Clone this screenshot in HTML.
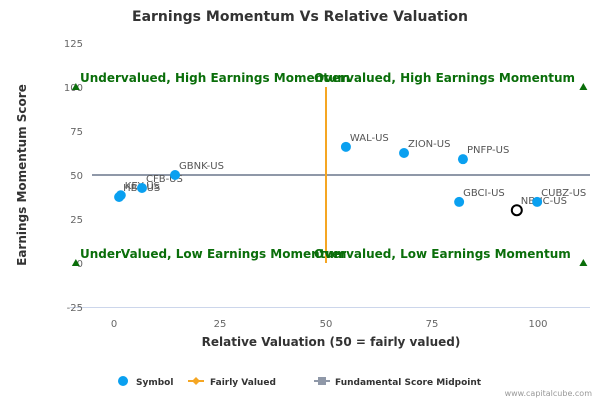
<!DOCTYPE html>
<html><head><meta charset="utf-8"><style>
body{margin:0;background:#fff;font-family:"DejaVu Sans",sans-serif}
svg text{font-family:"DejaVu Sans",sans-serif}
</style></head><body>
<svg width="600" height="400" xmlns="http://www.w3.org/2000/svg">
<rect width="600" height="400" fill="#fff"/>
<text x="300" y="21" text-anchor="middle" font-size="14" font-weight="bold" fill="#333">Earnings Momentum Vs Relative Valuation</text>
<g id="grid"></g>
<g id="marks"></g>
<text x="331" y="346" text-anchor="middle" font-size="12" font-weight="bold" fill="#333">Relative Valuation (50 = fairly valued)</text>
<text transform="translate(26,175) rotate(-90)" text-anchor="middle" font-size="12" font-weight="bold" fill="#333">Earnings Momentum Score</text>
<g font-size="9" font-weight="bold" fill="#333">
<g><circle cx="123" cy="381" r="5" fill="#0aa0f0"/><text x="136" y="385">Symbol</text></g>
<g><line x1="188" y1="381" x2="204" y2="381" stroke="#f5a623" stroke-width="2"/><path d="M196 377 L200 381 L196 385 L192 381Z" fill="#f5a623"/><text x="210" y="385">Fairly Valued</text></g>
<g><line x1="314" y1="381" x2="330" y2="381" stroke="#8f98a8" stroke-width="2"/><rect x="318" y="377" width="8" height="8" fill="#8f98a8"/><text x="335" y="385">Fundamental Score Midpoint</text></g>
</g>
<text x="592" y="396" text-anchor="end" font-size="8" fill="#999">www.capitalcube.com</text>
</svg>
<script>
const labels=["KEY-US","HBK-US","CFB-US","GBNK-US","WAL-US","ZION-US","PNFP-US","GBCI-US","NBHC-US","CUBZ-US"];
const xVals=[1.6,1.2,6.6,14.4,54.7,68.4,82.3,81.4,95,99.8];
const yVals=[38.5,37.5,42.6,50,66,62.5,59,34.7,30,34.7];
const highlight=[false,false,false,false,false,false,false,false,true,false];
const xTicks=[0,25,50,75,100];
const yTicks=[-25,0,25,50,75,100,125];
const X=v=>114+v*4.24, Y=v=>263-v*1.76;
const NS="http://www.w3.org/2000/svg";
function mk(t,a,p,txt){const e=document.createElementNS(NS,t);for(const k in a)e.setAttribute(k,a[k]);if(txt!=null)e.textContent=txt;p.appendChild(e);return e;}
const g=document.getElementById('grid'),m=document.getElementById('marks');
let ax=mk('line',{x1:70,y1:307.5,x2:590,y2:307.5,stroke:'#ccd6eb'},g);


xTicks.forEach(v=>{let t=mk('text',{x:X(v),y:327,'text-anchor':'middle','font-size':10,fill:'#666'},g,v);

});
yTicks.forEach(v=>{let t=mk('text',{x:83,y:Y(v)+4,'text-anchor':'end','font-size':10,fill:'#666'},g,v);

});
let hl=mk('line',{x1:92,y1:Y(50),x2:590,y2:Y(50),stroke:'#8f98a8','stroke-width':2},g);


let vl=mk('line',{x1:X(50),y1:Y(100),x2:X(50),y2:Y(0),stroke:'#f5a623','stroke-width':2},g);


[[-9,100],[110.7,100],[-9,0],[110.7,0]].forEach(p=>{const x=X(p[0]),y=Y(p[1]);
let tr=mk('path',{d:`M${x} ${y-4} L${x+4} ${y+3} L${x-4} ${y+3}Z`,fill:'#0a6e0a'},g);

});
[["Undervalued, High Earnings Momentum",80,Y(100)-5],["Overvalued, High Earnings Momentum",314,Y(100)-5],["UnderValued, Low Earnings Momentum",80,Y(0)-5],["Overvalued, Low Earnings Momentum",314,Y(0)-5]].forEach(q=>{
let t=mk('text',{x:q[1],y:q[2],'font-size':12,'font-weight':'bold',fill:'#0a6e0a'},g,q[0]);

});
labels.forEach((l,i)=>{const x=X(xVals[i]),y=Y(yVals[i]);
let c=highlight[i]?mk('circle',{cx:x,cy:y,r:5,fill:'#fff',stroke:'#000','stroke-width':2},m):mk('circle',{cx:x,cy:y,r:5,fill:'#0aa0f0'},m);


let t=mk('text',{x:x+4,y:y-6,'font-size':10,fill:'#555'},m,l);

});
</script>
</body></html>
